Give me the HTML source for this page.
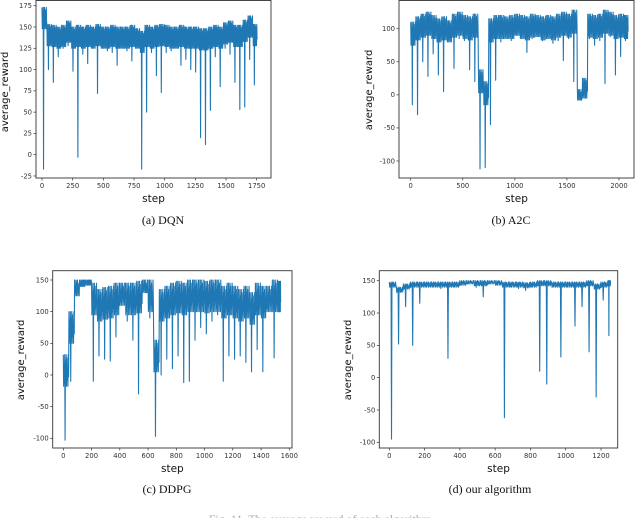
<!DOCTYPE html>
<html><head><meta charset="utf-8"><style>
html,body{margin:0;padding:0;background:#fff;width:640px;height:518px;overflow:hidden}
svg{display:block}
text{font-family:"DejaVu Sans","Liberation Sans",sans-serif}
.cap{font-family:"Liberation Serif",serif;font-size:12px}
</style></head><body>
<svg id="fig" width="640" height="518" viewBox="0 0 640 518"></svg>
<script>
// ---- DQN data (segment start step, low, high) ----
const dqnSteps=[0,40,80,120,160,200,240,280,320,360,400,440,480,520,560,600,640,680,720,760,800,840,880,920,960,1000,1040,1080,1120,1160,1200,1240,1280,1320,1360,1400,1440,1480,1520,1560,1600,1640,1680,1720,1755];
const dqnLow=[-17,100,85,115,125,128,98,-3,118,107,125,72,125,122,120,105,125,122,110,125,-17,50,120,93,73,120,122,125,105,112,100,97,20,12,52,115,80,125,118,85,53,56,112,82];
const dqnHigh=[173,153,152,150,152,157,150,152,150,152,150,153,150,150,152,150,150,150,152,148,145,152,150,152,153,152,150,150,152,150,150,150,148,148,150,152,150,155,157,152,152,158,163,153];
const dqnXTicks=[0,250,500,750,1000,1250,1500,1750];
const dqnYTicks=[-25,0,25,50,75,100,125,150,175];
// ---- A2C data ----
const a2cSteps=[0,50,100,150,200,250,300,350,400,450,500,550,600,650,700,750,800,850,900,950,1000,1050,1100,1150,1200,1250,1300,1350,1400,1450,1500,1550,1600,1650,1700,1750,1800,1850,1900,1950,2000,2050,2090];
const a2cLow=[-15,-30,50,28,62,30,5,80,40,85,82,38,20,-112,-110,-45,22,80,85,82,90,85,64,85,88,82,85,78,82,52,85,20,-8,-5,85,75,82,17,88,30,58,82];
const a2cHigh=[110,118,122,125,120,115,118,112,122,125,120,118,122,38,20,115,120,120,118,120,122,120,118,122,120,118,120,118,122,125,122,128,8,25,122,120,122,128,125,120,122,120];
const a2cXTicks=[0,500,1000,1500,2000];
const a2cYTicks=[-100,-50,0,50,100];
// ---- DDPG data ----
const ddpgSteps=[0,40,80,120,160,200,240,280,320,360,400,440,480,520,560,600,640,680,720,760,800,840,880,920,960,1000,1040,1080,1120,1160,1200,1240,1280,1320,1360,1400,1440,1480,1520,1540];
const ddpgLow=[-103,-10,125,140,142,-10,30,25,22,60,110,85,55,-30,130,90,-97,0,25,10,30,-12,-10,55,75,65,85,95,-10,30,25,30,20,5,40,5,100,27,100];
const ddpgHigh=[32,100,150,150,150,145,135,138,140,145,145,145,145,148,150,150,55,135,140,145,148,145,150,150,150,148,150,150,140,145,140,135,140,130,145,140,140,150,148];
const ddpgXTicks=[0,200,400,600,800,1000,1200,1400,1600];
const ddpgYTicks=[-100,-50,0,50,100,150];
// ---- Our algorithm data ----
const oursSteps=[0,40,80,120,160,200,240,280,320,360,400,440,480,520,560,600,640,680,720,760,800,840,880,920,960,1000,1040,1080,1120,1160,1200,1240,1255];
const oursLow=[-95,52,110,50,115,140,140,138,30,140,143,145,140,125,145,143,-62,140,138,135,140,10,-10,140,32,140,80,110,40,-30,120,65];
const oursHigh=[148,140,145,148,148,148,148,148,148,148,150,150,150,150,150,150,148,148,148,147,148,150,150,148,148,148,148,148,150,145,148,150];
const oursXTicks=[0,200,400,600,800,1000,1200];
const oursYTicks=[-100,-50,0,50,100,150];

const NS='http://www.w3.org/2000/svg';
const svg=document.getElementById('fig');
function mk(tag,attrs,parent){const e=document.createElementNS(NS,tag);for(const k in attrs)e.setAttribute(k,attrs[k]);(parent||svg).appendChild(e);return e;}

function panel(p){
  const g=mk('g',{});
  
  
  const sx=v=>p.xp0+(v-p.xv0)*(p.xp1-p.xp0)/(p.xv1-p.xv0);
  const sy=v=>p.yp0+(v-p.yv0)*(p.yp1-p.yp0)/(p.yv1-p.yv0);
  let pts=[];
  for(let i=0;i<p.lo.length;i++){
    const s0=p.steps[i],s1=p.steps[i+1],hi=p.hi[i],lo=p.lo[i];
    const bl=Math.max(lo,hi-p.band);
    const seq=[hi,bl,hi-p.band*0.3,bl+p.band*0.1,hi,lo,hi-p.band*0.2,bl+p.band*0.4,hi,bl,hi-p.band*0.1,bl+p.band*0.2,hi-p.band*0.4,bl,hi,bl+p.band*0.3];
    for(let j=0;j<seq.length;j++){
      const st=s0+(s1-s0)*j/seq.length;
      pts.push(sx(st).toFixed(2)+','+sy(Math.min(hi,Math.max(lo,seq[j]))).toFixed(2));
    }
  }
  const line=mk('polyline',{points:pts.join(' '),fill:'none',stroke:'#1f77b4','stroke-width':1.1,'stroke-linejoin':'round'},g);
  
  
  const fr=mk('rect',{x:p.fx0,y:p.fy0,width:p.fx1-p.fx0,height:p.fy1-p.fy0,fill:'none',stroke:'#333','stroke-width':0.9},g);
  
  
  p.xt.forEach(v=>{
    const x=sx(v);
    mk('line',{x1:x,x2:x,y1:p.fy1,y2:p.fy1+2.5,stroke:'#333','stroke-width':0.7},g);
    const t=mk('text',{x:x,y:p.fy1+10,'font-size':6.8,'text-anchor':'middle',fill:'#333'},g);
    t.textContent=v;
    
    
  });
  p.yt.forEach(v=>{
    const y=sy(v);
    mk('line',{x1:p.fx0-2.5,x2:p.fx0,y1:y,y2:y,stroke:'#333','stroke-width':0.7},g);
    const t=mk('text',{x:p.fx0-4,y:y+2.3,'font-size':6.8,'text-anchor':'end',fill:'#333'},g);
    t.textContent=v;
    
    
  });
  const xl=mk('text',{x:(p.fx0+p.fx1)/2,y:p.fy1+24,'font-size':10.5,'text-anchor':'middle',fill:'#111'},g);
  xl.textContent='step';
  
  
  const yl=mk('text',{x:0,y:0,'font-size':10,'text-anchor':'middle',fill:'#111',transform:'translate('+p.ylx+','+p.yly+') rotate(-90)'},g);
  yl.textContent='average_reward';
  
  
  const c=mk('text',{x:p.capx,y:p.capy,'text-anchor':'middle',class:'cap',fill:'#111'},g);
  c.textContent=p.cap;
  
  
}
panel({name:'dqn',steps:dqnSteps,lo:dqnLow,hi:dqnHigh,xt:dqnXTicks,yt:dqnYTicks,band:25,
  xv0:0,xv1:1750,xp0:42,xp1:256.7,yv0:0,yv1:150,yp0:154.7,yp1:27,
  fx0:36,fx1:271,fy0:0.5,fy1:178,ylx:8,yly:92,capx:163,capy:224,cap:'(a)  DQN'});
panel({name:'a2c',steps:a2cSteps,lo:a2cLow,hi:a2cHigh,xt:a2cXTicks,yt:a2cYTicks,band:35,
  xv0:0,xv1:2000,xp0:410.7,xp1:619,yv0:100,yv1:-100,yp0:28.7,yp1:161,
  fx0:399,fx1:634,fy0:0.5,fy1:178,ylx:372,yly:90,capx:511,capy:224,cap:'(b)  A2C'});
panel({name:'ddpg',steps:ddpgSteps,lo:ddpgLow,hi:ddpgHigh,xt:ddpgXTicks,yt:ddpgYTicks,band:50,
  xv0:0,xv1:1600,xp0:63.3,xp1:289.3,yv0:150,yv1:-100,yp0:280,yp1:438.3,
  fx0:52.7,fx1:292,fy0:270.7,fy1:448,ylx:24,yly:360,capx:167,capy:493,cap:'(c)  DDPG'});
panel({name:'ours',steps:oursSteps,lo:oursLow,hi:oursHigh,xt:oursXTicks,yt:oursYTicks,band:8,
  xv0:0,xv1:1200,xp0:389.3,xp1:601,yv0:150,yv1:-100,yp0:280.7,yp1:442.3,
  fx0:379.3,fx1:617.7,fy0:270.7,fy1:448,ylx:351,yly:360,capx:490,capy:493,cap:'(d)  our algorithm'});
const f=mk('text',{x:320,y:523,'text-anchor':'middle',class:'cap',fill:'#aaa'});
f.textContent='Fig. 11.  The average reward of each algorithm';


</script>
</body></html>
